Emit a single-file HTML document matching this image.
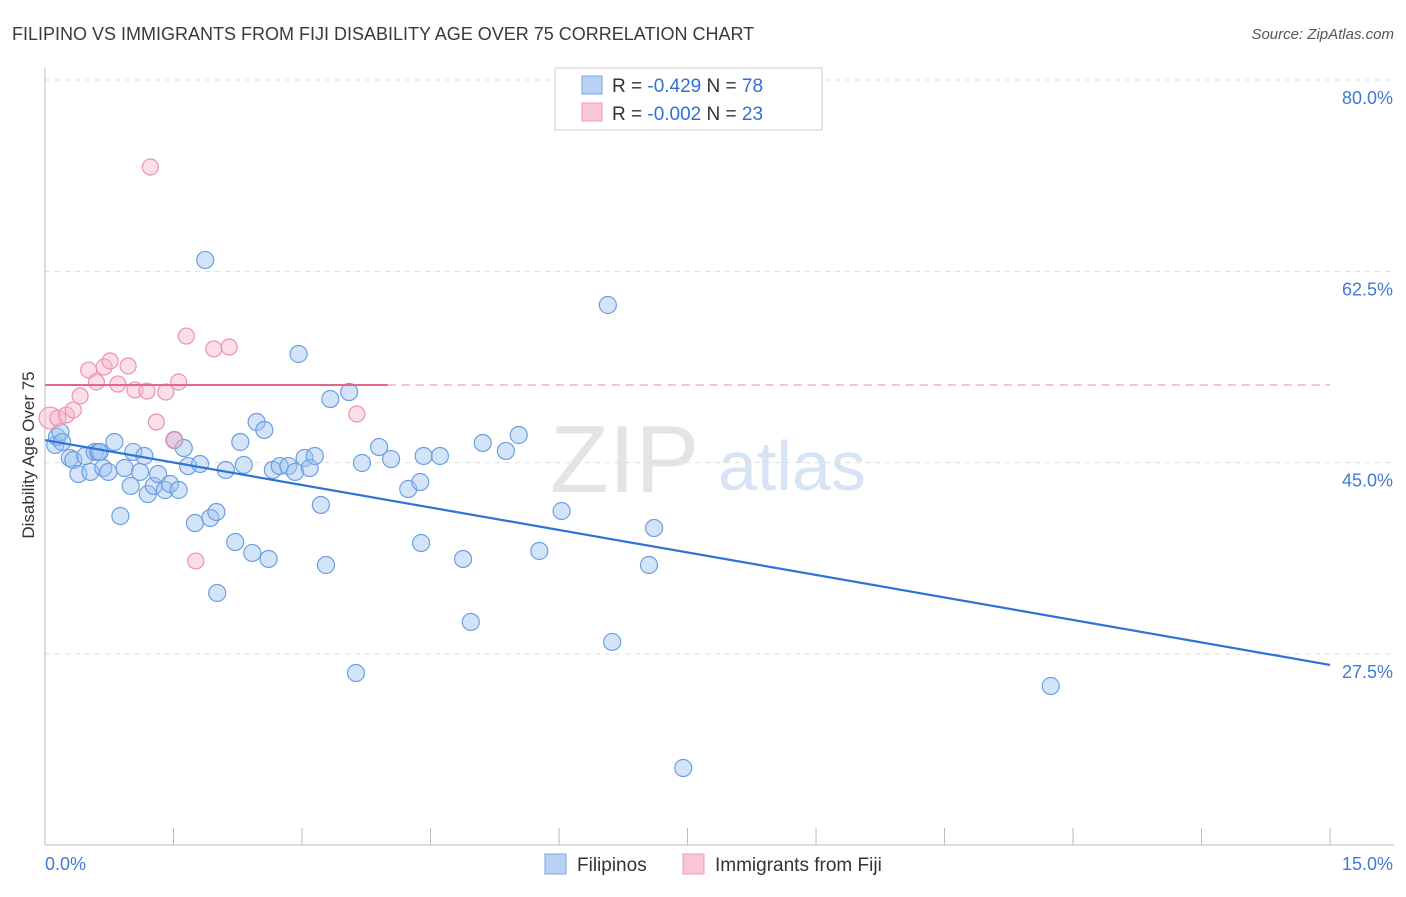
<!DOCTYPE html>
<html><head><meta charset="utf-8"><style>
body{margin:0;background:#fff;font-family:"Liberation Sans",sans-serif;}
svg text{font-family:"Liberation Sans",sans-serif;}
</style></head><body>
<svg id="chart" width="1406" height="892" xmlns="http://www.w3.org/2000/svg">
<text x="12" y="40" font-size="18" fill="#3a3a3a">FILIPINO VS IMMIGRANTS FROM FIJI DISABILITY AGE OVER 75 CORRELATION CHART</text>
<text x="1394" y="39" font-size="15" fill="#555" text-anchor="end" font-style="italic">Source: ZipAtlas.com</text>
<text x="550" y="492" font-size="96" fill="#e4e4e4" font-family="Liberation Serif">ZIP</text>
<text x="718" y="490" font-size="70" fill="#d6e4f5">atlas</text>
<text transform="translate(34,455) rotate(-90)" font-size="17" fill="#333" text-anchor="middle">Disability Age Over 75</text>
<g id="grid"></g><g id="axes"></g><g id="pts"></g><g id="lines"></g>
<g>
<rect x="555" y="68" width="267" height="62" fill="#fff" stroke="#ccc"/>
<rect x="582" y="76" width="20" height="18" fill="#b8d2f4" stroke="#7aa6e0"/>
<rect x="582" y="103" width="20" height="18" fill="#f9c6d6" stroke="#ee9ab8"/>
<text x="612" y="92" font-size="19" fill="#333">R = <tspan fill="#2f6fd6">-0.429</tspan>   N = <tspan fill="#2f6fd6">78</tspan></text>
<text x="612" y="120" font-size="19" fill="#333">R = <tspan fill="#2f6fd6">-0.002</tspan>   N = <tspan fill="#2f6fd6">23</tspan></text>
</g>
<g>
<rect x="545" y="854" width="21" height="20" fill="#b8d2f4" stroke="#7aa6e0"/>
<text x="577" y="871" font-size="19" fill="#333">Filipinos</text>
<rect x="683" y="854" width="21" height="20" fill="#f9c6d6" stroke="#ee9ab8"/>
<text x="715" y="871" font-size="19" fill="#333">Immigrants from Fiji</text>
</g>
</svg>
<script>
const yTicks=[80,62.5,45,27.5];
const yTickLabels=["80.0%","62.5%","45.0%","27.5%"];
const xTickVals=[0,1.5,3,4.5,6,7.5,9,10.5,12,13.5,15];
const xEndLabels=["0.0%","15.0%"];
const blueX=[0.12,0.14,0.18,0.20,0.29,0.33,0.39,0.47,0.53,0.58,0.62,0.68,0.74,0.81,0.88,0.93,1.00,1.03,1.11,1.16,1.20,1.27,1.32,1.40,1.46,1.51,1.56,1.62,1.67,1.75,1.81,1.87,1.93,2.00,2.01,2.11,2.22,2.28,2.32,2.42,2.47,2.56,2.61,2.66,2.74,2.84,2.92,2.96,3.03,3.09,3.15,3.22,3.28,3.33,3.55,3.63,3.70,3.90,4.04,4.24,4.38,4.39,4.42,4.61,4.88,4.97,5.11,5.38,5.53,5.77,6.03,6.57,6.62,7.05,7.11,7.45,11.74,0.64];
const blueY=[46.62,47.35,47.8,46.89,45.43,45.24,43.96,45.61,44.15,45.98,45.98,44.51,44.15,46.89,40.12,44.51,42.87,45.98,44.15,45.61,42.13,42.87,43.96,42.5,43.05,47.07,42.5,46.34,44.69,39.48,44.88,63.54,39.94,40.49,33.08,44.33,37.74,46.89,44.79,36.74,48.72,47.99,36.19,44.33,44.69,44.69,44.15,54.94,45.43,44.51,45.61,41.13,35.64,50.82,51.46,25.76,44.97,46.43,45.33,42.59,43.23,37.65,45.61,45.61,36.19,30.43,46.8,46.07,47.53,36.92,40.58,59.42,28.6,35.64,39.02,17.07,24.57,45.98];
const pinkX=[0.06,0.15,0.25,0.33,0.41,0.51,0.60,0.69,0.76,0.85,0.97,1.05,1.19,1.23,1.30,1.41,1.51,1.56,1.65,1.76,1.97,2.15,3.64];
const pinkY=[49.08,49.08,49.36,49.82,51.1,53.47,52.38,53.75,54.3,52.19,53.84,51.65,51.55,72.04,48.72,51.46,47.07,52.38,56.58,36.0,55.4,55.58,49.45];
const blueTrend=[47.07,26.5];
const pinkTrend=[52.1,52.1];
const X=v=>45+v*85.67, Y=v=>80+(80-v)*10.933;
const NS="http://www.w3.org/2000/svg";
function mk(t,a,p){const e=document.createElementNS(NS,t);for(const k in a)e.setAttribute(k,a[k]);p.appendChild(e);return e;}
const grid=document.getElementById('grid'),axes=document.getElementById('axes'),pts=document.getElementById('pts'),lines=document.getElementById('lines');
yTicks.forEach((v,i)=>{
 const l=mk('line',{x1:45,x2:1394,y1:Y(v),y2:Y(v),stroke:'#ddd','stroke-dasharray':'5,5'},grid);
 
 
 const t=mk('text',{x:1393,y:Y(v)+24,'font-size':18,fill:'#3f7ad8','text-anchor':'end'},axes);
 t.textContent=yTickLabels[i];
 
 
});
const ax=mk('line',{x1:45,x2:45,y1:68,y2:845,stroke:'#bbb'},axes);


const bx=mk('line',{x1:45,x2:1394,y1:845,y2:845,stroke:'#bbb'},axes);


xTickVals.forEach(v=>{
 const t=mk('line',{x1:X(v),x2:X(v),y1:828,y2:845,stroke:'#bbb'},axes);
 
 
});
const xl0=mk('text',{x:45,y:870,'font-size':18,fill:'#3f7ad8'},axes);xl0.textContent=xEndLabels[0];


const xl1=mk('text',{x:1393,y:870,'font-size':18,fill:'#3f7ad8','text-anchor':'end'},axes);xl1.textContent=xEndLabels[1];


blueX.forEach((v,i)=>{
 const c=mk('circle',{cx:X(v),cy:Y(blueY[i]),r:8.5,fill:'rgba(160,196,240,0.45)',stroke:'#6d9fe0','stroke-width':1.2},pts);
 
 
});
pinkX.forEach((v,i)=>{
 const c=mk('circle',{cx:X(v),cy:Y(pinkY[i]),r:i==0?11:8,fill:'rgba(246,182,202,0.45)',stroke:'#ec92b3','stroke-width':1.2},pts);
 
 
});
const bl=mk('line',{x1:X(0),y1:Y(blueTrend[0]),x2:X(15),y2:Y(blueTrend[1]),stroke:'#2f72d8','stroke-width':2.2},lines);


const pl=mk('line',{x1:X(0),y1:Y(pinkTrend[0]),x2:X(4),y2:Y(pinkTrend[0]),stroke:'#e8648e','stroke-width':2},lines);


const pd=mk('line',{x1:X(4),y1:Y(pinkTrend[0]),x2:X(15),y2:Y(pinkTrend[1]),stroke:'#eea0b8','stroke-width':1.3,'stroke-dasharray':'8,6'},lines);


</script>
</body></html>
